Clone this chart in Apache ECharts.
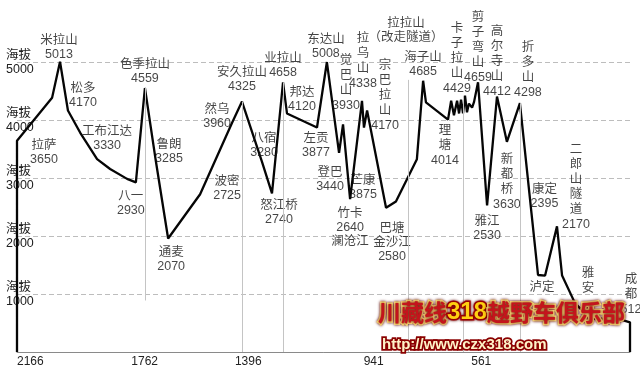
<!DOCTYPE html>
<html><head><meta charset="utf-8">
<script src="https://cdn.jsdelivr.net/npm/echarts@6/dist/echarts.min.js"></script>
<style>html,body{margin:0;padding:0;background:#fff}#c{width:640px;height:368px}</style>
</head><body><div id="c"></div>
<script>
// Route profile, Lhasa -> Chengdu: distance remaining to Chengdu (km), altitude (m)
const routeKm = [2166,2166,2042,2014,1986,1943,1883,1837,1777,1746,1714,1675,1632,1519,1406,1371,1300,1265,1226,1212,1106,1071,1028,1014,989,947,940,929,862,827,753,731,721,643,632,622,611,604,597,590,583,576,569,558,551,537,505,470,435,389,348,325,300,258,240,194,141,35,0,0];
const routeAlt = [0,3650,4390,5013,4170,3790,3330,3160,2990,2930,4559,3285,1960,2725,3960,4325,3280,2740,4658,4120,3877,5008,3440,3930,2640,4338,3875,4170,2490,2600,3330,4685,4310,4014,4340,4090,4340,4120,4360,4120,4429,4140,4290,4220,4320,4659,2530,4412,3630,4298,2395,1330,1320,2170,1320,840,580,565,512,0];
const routeName = ['','拉萨','','米拉山','松多','','工布江达','','','八一','色季拉山','鲁朗','通麦','波密','然乌','安久拉山','八宿','怒江桥','业拉山','邦达','左贡','东达山','登巴','觉巴山','竹卡','拉乌山','芒康','宗巴拉山','巴塘','','','海子山','','理塘','','','','','','','卡子拉山','','','','','剪子弯山','雅江','高尔寺山','新都桥','折多山','康定','泸定','','二郎山隧道','','','雅安','','成都',''];
const routeTag = ['','3650','','5013','4170','','3330','','','2930','4559','3285','2070','2725','3960','4325','3280','2740','4658','4120','3877','5008','3440','3930','2640','4338','3875','4170','2580','','','4685','','4014','','','','','','','4429','','','','','4659','2530','4412','3630','4298','2395','','','2170','','','','','512',''];
const nameBefore = {'巴塘':'金沙江'};   // second place name printed before the altitude
const nameAfter = {'竹卡':'澜沧江'};    // second place name printed after the altitude

const xTickValues = [2166,1762,1396,941,561];
const yTickValues = [1000,2000,3000,4000,5000];

// grey drop lines from selected passes
const dropKm = [2014,1714,1371,1226,1071,784,589,389];
const dropTop = [5013,4559,4325,4658,5008,4700,4400,4298];
const dropBottom = [890,890,0,0,0,0,0,0];

const noteText = '拉拉山\n（改走隧道）';
const noteKm = 784, noteAlt = 4700;

const brandText = ['川藏线','318','越野车俱乐部'];
const brandUrl = 'http://www.czx318.com';

// ---- label layout (pixel offsets from the point, vertical = stacked characters)
const tagLayout = {
 '拉萨':{o:[27,12]}, '米拉山':{o:[-1,-14]}, '松多':{o:[15,-15]}, '工布江达':{o:[10,-21]},
 '八一':{o:[-5,21]}, '色季拉山':{o:[0,-16]}, '鲁朗':{o:[13,-10]}, '通麦':{o:[3,21]},
 '波密':{o:[27,-6]}, '然乌':{o:[-15,-6]}, '安久拉山':{o:[0,-22]}, '八宿':{o:[2,-17]},
 '怒江桥':{o:[7,19]}, '业拉山':{o:[0,-17]}, '邦达':{o:[15,-14]}, '左贡':{o:[-1,18]},
 '东达山':{o:[-1,-15]}, '登巴':{o:[-9,27]}, '觉巴山':{o:[3,-41],v:true}, '竹卡':{o:[0,28]},
 '拉乌山':{o:[1,-40],v:true}, '芒康':{o:[-1,60]}, '宗巴拉山':{o:[18,-15],v:true}, '巴塘':{o:[6,35]},
 '海子山':{o:[0,-16]}, '理塘':{o:[-3,26],v:true}, '卡子拉山':{o:[-8,-37],v:true}, '剪子弯山':{o:[0,-35],v:true},
 '高尔寺山':{o:[0,-35],v:true}, '折多山':{o:[8,-33],v:true}, '雅江':{o:[0,23]}, '新都桥':{o:[0,40],v:true},
 '康定':{o:[13,-17]}, '泸定':{o:[4,13]}, '二郎山隧道':{o:[19,-39],v:true}, '雅安':{o:[-2,-37],v:true},
 '成都':{o:[1,-28],v:true}
};

const FONT = '"Liberation Sans","Noto Sans CJK SC",sans-serif';

function tagText(i){
  const n = routeName[i], L = tagLayout[n] || {o:[0,0]};
  const lines = [];
  lines.push(L.v ? n.split('').join('\n') : n);
  if (nameBefore[n]) lines.push(nameBefore[n]);
  if (routeTag[i]) lines.push(routeTag[i]);
  if (nameAfter[n]) lines.push(nameAfter[n]);
  return lines.join('\n');
}

const profile = routeKm.map((k,i)=>[k, routeAlt[i]]);
const tagData = [];
routeName.forEach((n,i)=>{
  if(!n) return;
  const L = tagLayout[n] || {o:[0,0]};
  tagData.push({value:[routeKm[i], routeAlt[i]], label:{offset:L.o, formatter:tagText(i), lineHeight: L.v?15:14}});
});
const dropLines = dropKm.map((k,i)=>[{coord:[k,dropTop[i]]},{coord:[k,dropBottom[i]]}]);

const chart = echarts.init(document.getElementById('c'));
chart.setOption({
  animation:false,
  backgroundColor:'#fff',
  grid:{left:17,right:10,top:62.5,bottom:13},
  xAxis:{type:'value',min:0,max:2166,inverse:true,
    axisLine:{show:true,lineStyle:{color:'#8a8a8a',width:1}},
    axisTick:{show:false}, splitLine:{show:false},
    axisLabel:{customValues:xTickValues,formatter:v=>String(v),align:'left',margin:4,color:'#222',fontSize:12,fontFamily:FONT}},
  yAxis:{type:'value',min:0,max:5000,interval:1000,
    axisLine:{show:false}, axisTick:{show:false},
    splitLine:{show:true,lineStyle:{color:'#bdbdbd',width:1,type:[5,3]}},
    axisLabel:{formatter:v=> yTickValues.indexOf(v)>=0 ? '海拔\n'+v : '',align:'left',margin:11,
      lineHeight:14,color:'#222',fontSize:12.5,fontFamily:FONT}},
  title:[
    {text:'{a|'+brandText[0]+'}{b|'+brandText[1]+'}{a|'+brandText[2]+'}',left:373,top:295,
     textStyle:{rich:{
       a:{fontSize:23,fontWeight:'bold',color:'#c4141c',fontFamily:'"Noto Sans CJK SC"',textBorderColor:'#ffe27a',textBorderWidth:3,textShadowColor:'#5a0000',textShadowBlur:3},
       b:{fontSize:24,fontWeight:'bold',color:'#ffcf10',fontFamily:'"Liberation Sans"',textBorderColor:'#b00000',textBorderWidth:3,textShadowColor:'#5a0000',textShadowBlur:3}
     }}},
    {text:brandUrl,left:377,top:332,
     textStyle:{fontSize:15,fontWeight:'bold',color:'#fff3c8',fontFamily:'"Liberation Sans"',textBorderColor:'#8a0000',textBorderWidth:3.5}}
  ],
  series:[
    {type:'line',data:dropKm.map((k,i)=>[k,dropTop[i]]),symbol:'none',lineStyle:{opacity:0},z:1,silent:true,clip:false,
     markLine:{silent:true,symbol:'none',label:{show:false},lineStyle:{color:'#c4c4c4',width:1,type:'solid'},data:dropLines}},
    {type:'line',data:profile,symbol:'none',clip:false,z:3,lineStyle:{color:'#050505',width:2.3},silent:true},
    {type:'scatter',data:tagData,symbolSize:1,itemStyle:{color:'rgba(0,0,0,0)'},clip:false,z:4,silent:true,
     label:{show:true,position:'inside',align:'center',verticalAlign:'middle',color:'#151515',fontSize:12.5,fontFamily:FONT}},
    {type:'scatter',data:[[noteKm,noteAlt]],symbolSize:1,itemStyle:{color:'rgba(0,0,0,0)'},clip:false,z:4,silent:true,
     label:{show:true,position:'inside',offset:[-2,-49],formatter:noteText,lineHeight:14,color:'#151515',fontSize:12.5,fontFamily:FONT}}
  ]
});
</script></body></html>
